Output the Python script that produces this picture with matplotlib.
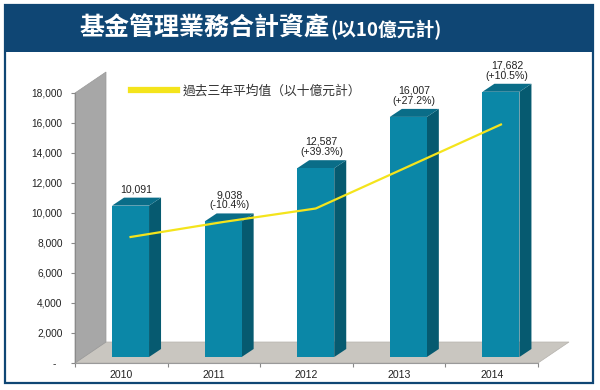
import matplotlib
matplotlib.use('Agg')
import matplotlib.pyplot as plt
from matplotlib.patches import Polygon, Rectangle
from matplotlib.lines import Line2D
from matplotlib.ticker import FuncFormatter, FixedLocator

years = ['2010', '2011', '2012', '2013', '2014']
assets = [10091, 9038, 12587, 16007, 17682]
changes = ['', '(-10.4%)', '(+39.3%)', '(+27.2%)', '(+10.5%)']
avg_3yr = [8000, 9000, 9900, 12700, 15500]

NAVY = '#0f4674'
YELLOW = '#f4e41c'
FRONT, SIDE, TOP = '#0b87a7', '#065a70', '#0a6d88'
CJK = ['Noto Sans CJK TC', 'DejaVu Sans']

plt.rcParams['font.family'] = ['Liberation Sans', 'DejaVu Sans']

W, H = 600, 390
fig = plt.figure(figsize=(6, 3.9), dpi=100)


def fx(px):
    return px / W


def fy(py):
    return 1 - py / H


# frame + title bar (behind the axes)
fig.add_artist(Rectangle((fx(5), fy(52)), fx(588), 47 / H, transform=fig.transFigure,
                         facecolor=NAVY, edgecolor='none', zorder=-2))
fig.add_artist(Rectangle((fx(5), fy(383)), fx(588), 378 / H, transform=fig.transFigure,
                         facecolor='none', edgecolor=NAVY, lw=1.6, zorder=-2))
t1 = fig.text(fx(79), fy(29), '基金管理業務合計資產', color='white', fontsize=18,
              fontweight='bold', family=CJK, va='center', ha='left')

ax = fig.add_axes([fx(75), fy(363), fx(538) - fx(75), fy(93) - fy(363)])
ax.set_xlim(0, 5)
ax.set_ylim(0, 18000)
ax.patch.set_visible(False)

ax.annotate('(以10億元計)', xy=(1, 0), xycoords=t1, xytext=(1, 1), textcoords='offset points',
            color='white', fontsize=13.5, fontweight='bold', family=CJK, va='bottom', ha='left')

px_x = 5 / 463
px_y = 18000 / 270
base = 6 * px_y
bar_w = 37 * px_x
bar_dx, bar_dy = 12 * px_x, 8 * px_y
wall_dx, wall_dy = 31 * px_x, 21 * px_y

# floor and side wall
ax.add_patch(Polygon([(0, 0), (wall_dx, wall_dy), (5 + wall_dx, wall_dy), (5, 0)],
                     closed=True, facecolor='#c9c6c0', edgecolor='#b5b2ad', lw=0.5,
                     clip_on=False, zorder=1))
ax.add_patch(Polygon([(0, 0), (wall_dx, wall_dy), (wall_dx, 18000 + wall_dy), (0, 18000)],
                     closed=True, facecolor='#a7a7a7', edgecolor='#999999', lw=0.5,
                     clip_on=False, zorder=1))

# 3d bars
for i, v in enumerate(assets):
    x0 = i + 0.4
    x1 = x0 + bar_w
    top = base + v
    ax.add_patch(Polygon([(x1, base), (x1 + bar_dx, base + bar_dy), (x1 + bar_dx, top + bar_dy), (x1, top)],
                         closed=True, facecolor=SIDE, edgecolor='none', clip_on=False, zorder=2))
    ax.add_patch(Polygon([(x0, top), (x1, top), (x1 + bar_dx, top + bar_dy), (x0 + bar_dx, top + bar_dy)],
                         closed=True, facecolor=TOP, edgecolor='none', clip_on=False, zorder=2))
    ax.add_patch(Rectangle((x0, base), bar_w, v, facecolor=FRONT, edgecolor='none',
                           clip_on=False, zorder=3))
    label = f'{v:,}' if not changes[i] else f'{v:,}\n{changes[i]}'
    ax.text(x0 + (bar_w + bar_dx) / 2, top + bar_dy + 3 * px_y, label, ha='center', va='bottom',
            fontsize=7.6, color='#222222', linespacing=1.05, zorder=5, clip_on=False)

# 3-year average line
xs = [i + 0.4 + bar_w / 2 for i in range(len(years))]
ax.plot(xs, [base + v for v in avg_3yr], color=YELLOW, lw=1.6, zorder=4, clip_on=False)

leg = ax.legend(handles=[Line2D([], [], color=YELLOW, lw=4.5)], labels=['過去三年平均值（以十億元計）'],
                loc='center left', bbox_to_anchor=(fx(131), fy(91)), bbox_transform=fig.transFigure,
                frameon=False, handlelength=3.6, handletextpad=0.45, borderpad=0, borderaxespad=0,
                prop={'family': CJK, 'size': 9.2})
for t in leg.get_texts():
    t.set_color('#333333')

# axes
for s in ['top', 'right']:
    ax.spines[s].set_visible(False)
ax.spines['left'].set_color('#8a8a8a')
ax.spines['left'].set_linewidth(0.8)
ax.spines['bottom'].set_color('#9a9a9a')
ax.spines['bottom'].set_linewidth(0.8)

ax.set_yticks(range(0, 18001, 2000))
ax.yaxis.set_major_formatter(FuncFormatter(lambda v, p: '-  ' if v == 0 else f'{int(v):,}'))
ax.tick_params(axis='y', length=3, width=0.8, color='#888888', pad=6, labelsize=7.3, labelcolor='#222222')

ax.set_xticks([i + 0.5 for i in range(len(years))])
ax.set_xticklabels(years)
ax.xaxis.set_minor_locator(FixedLocator(range(0, 6)))
ax.tick_params(axis='x', which='major', length=0, pad=5, labelsize=7.6, labelcolor='#222222')
ax.tick_params(axis='x', which='minor', length=3, width=0.8, color='#888888')

fig.savefig('out.png', dpi=100)
